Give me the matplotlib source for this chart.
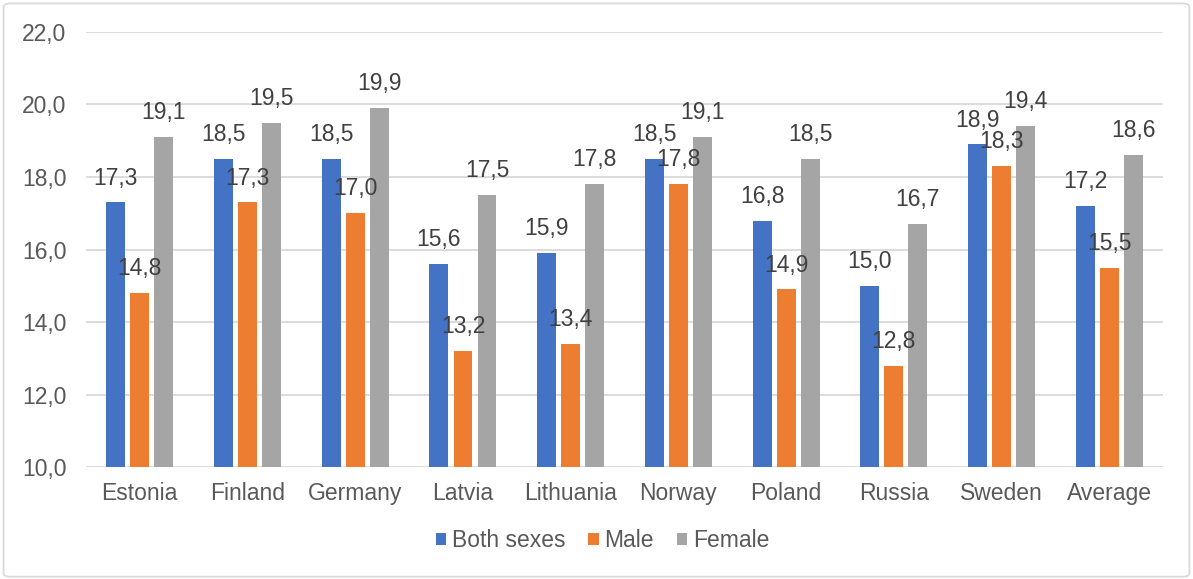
import matplotlib
matplotlib.use("Agg")
import matplotlib.pyplot as plt
from matplotlib.patches import FancyBboxPatch
import numpy as np

countries = ["Estonia", "Finland", "Germany", "Latvia", "Lithuania",
             "Norway", "Poland", "Russia", "Sweden", "Average"]
both_sexes = [17.3, 18.5, 18.5, 15.6, 15.9, 18.5, 16.8, 15.0, 18.9, 17.2]
male = [14.8, 17.3, 17.0, 13.2, 13.4, 17.8, 14.9, 12.8, 18.3, 15.5]
female = [19.1, 19.5, 19.9, 17.5, 17.8, 19.1, 18.5, 16.7, 19.4, 18.6]
series_names = ["Both sexes", "Male", "Female"]
y_ticks = [10, 12, 14, 16, 18, 20, 22]

colors = ["#4472C4", "#ED7D31", "#A5A5A5"]
text_color = "#595959"
label_color = "#404040"
grid_color = "#D9D9D9"

plt.rcParams["font.family"] = ["Liberation Sans", "DejaVu Sans"]
FS = 16.5

fig = plt.figure(figsize=(11.93, 5.79), dpi=100)
ax = fig.add_axes([0.072, 0.193, 0.903, 0.752])

x = np.arange(len(countries))
width = 0.175
step = 0.223
for i, (vals, name, c) in enumerate(zip([both_sexes, male, female], series_names, colors)):
    pos = x + (i - 1) * step
    ax.bar(pos, np.array(vals) - 10, width=width, bottom=10, color=c,
           label=name, zorder=3)
    for px, v in zip(pos, vals):
        ax.annotate(f"{v:.1f}".replace(".", ","), xy=(px, v), xytext=(0, 17.5),
                    textcoords="offset points", ha="center", va="center",
                    fontsize=FS, color=label_color, zorder=4)

ax.set_xlim(-0.5, len(countries) - 0.5)
ax.set_ylim(10, 22)
ax.set_yticks(y_ticks)
ax.set_yticklabels([f"{t:.1f}".replace(".", ",") for t in y_ticks])
ax.set_xticks(x)
ax.set_xticklabels(countries)
ax.tick_params(axis="both", length=0, labelsize=FS, colors=text_color)
ax.tick_params(axis="y", pad=14)
ax.tick_params(axis="x", pad=10.5)
ax.grid(axis="y", color=grid_color, linewidth=1.3, zorder=0)
for s in ax.spines.values():
    s.set_visible(False)

leg = fig.legend(loc="center", bbox_to_anchor=(0.505, 0.066), ncol=3, frameon=False,
                 fontsize=FS, handlelength=0.45, handleheight=0.45, handletextpad=0.25,
                 columnspacing=1.0)
for t in leg.get_texts():
    t.set_color(text_color)

border = FancyBboxPatch((0.003, 0.004), 0.994, 0.99, boxstyle="round,pad=0,rounding_size=0.006",
                        transform=fig.transFigure, facecolor="none", edgecolor=grid_color,
                        linewidth=1.3)
fig.patches.append(border)

fig.savefig("out.png", dpi=100)
